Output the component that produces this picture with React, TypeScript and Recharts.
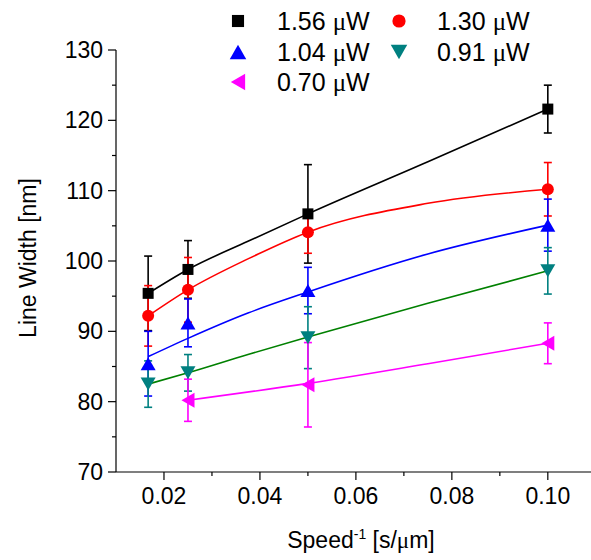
import React from 'react';
import { ComposedChart, Line, Scatter, ErrorBar, XAxis, YAxis } from 'recharts';

// measured points: inverse writing speed [s/um] vs line width [nm]
const SPEED_INV = [0.0167, 0.025, 0.05, 0.1];
const SPEED_INV_070 = [0.025, 0.05, 0.1];

const WIDTH_156 = [95.4, 98.8, 106.7, 121.6];
const ERR_156 = [5.3, 4.1, 7.0, 3.4];
const WIDTH_130 = [92.2, 95.9, 104.1, 110.2];
const ERR_130 = [4.3, 4.6, 3.0, 3.8];
const WIDTH_104 = [85.4, 91.2, 95.8, 105.1];
const ERR_104 = [4.6, 3.4, 3.3, 3.7];
const WIDTH_091 = [82.5, 84.1, 89.1, 98.6];
const ERR_091 = [3.3, 2.6, 4.4, 3.3];
const WIDTH_070 = [80.2, 82.4, 88.3];
const ERR_070 = [3.0, 6.0, 2.9];

// fitted curves
const FIT_X = [0.0167, 0.025, 0.0375, 0.05, 0.075, 0.1];
const FIT_X_070 = [0.025, 0.05, 0.075, 0.1];
const FIT_156 = [95.4, 98.8, 102.8, 106.7, 114.1, 121.6];
const FIT_130 = [92.2, 95.9, 100.3, 104.1, 108.2, 110.2];
const FIT_104 = [86.4, 89.0, 92.6, 95.6, 101.0, 105.1];
const FIT_091 = [82.5, 84.1, 86.7, 89.2, 94.0, 98.6];
const FIT_070 = [80.2, 82.6, 85.4, 88.3];

const X_TICKS = [0.02, 0.03, 0.04, 0.05, 0.06, 0.07, 0.08, 0.09, 0.1];
const Y_TICKS = [70, 75, 80, 85, 90, 95, 100, 105, 110, 115, 120, 125, 130];

const W = 591;
const H = 560;
const PLOT_LEFT = 116;
const PLOT_TOP = 50;
const PLOT_BOTTOM = 472;
const FONT = '"Liberation Sans", Arial, sans-serif';

const rows = (xs: number[], ys: number[], es?: number[]) =>
  xs.map((x, i) => ({ x, y: ys[i], err: es ? es[i] : 0 }));

type MarkerKind = 'square' | 'circle' | 'up' | 'down' | 'left';

const Marker = ({ kind, cx, cy, color, s = 1 }: { kind: MarkerKind; cx: number; cy: number; color: string; s?: number }) => {
  if (kind === 'square') {
    const h = 5.5 * s;
    return <rect x={cx - h} y={cy - h} width={2 * h} height={2 * h} fill={color} />;
  }
  if (kind === 'circle') return <circle cx={cx} cy={cy} r={6 * s} fill={color} />;
  if (kind === 'up') {
    const w = 7.5 * s, h = 6.5 * s;
    return <polygon points={`${cx - w},${cy + h} ${cx + w},${cy + h} ${cx},${cy - h}`} fill={color} />;
  }
  if (kind === 'down') {
    const w = 7.5 * s, h = 6.5 * s;
    return <polygon points={`${cx - w},${cy - h} ${cx + w},${cy - h} ${cx},${cy + h}`} fill={color} />;
  }
  const w = 6.5 * s, h = 7.5 * s;
  return <polygon points={`${cx + w},${cy - h} ${cx + w},${cy + h} ${cx - w},${cy}`} fill={color} />;
};

const SERIES = [
  { name: '1.56', kind: 'square' as MarkerKind, color: '#000000', line: '#000000', pts: rows(SPEED_INV, WIDTH_156, ERR_156), fit: rows(FIT_X, FIT_156) },
  { name: '1.30', kind: 'circle' as MarkerKind, color: '#ff0000', line: '#ff0000', pts: rows(SPEED_INV, WIDTH_130, ERR_130), fit: rows(FIT_X, FIT_130) },
  { name: '1.04', kind: 'up' as MarkerKind, color: '#0000ff', line: '#0000ff', pts: rows(SPEED_INV, WIDTH_104, ERR_104), fit: rows(FIT_X, FIT_104) },
  { name: '0.91', kind: 'down' as MarkerKind, color: '#008080', line: '#008000', pts: rows(SPEED_INV, WIDTH_091, ERR_091), fit: rows(FIT_X, FIT_091) },
  { name: '0.70', kind: 'left' as MarkerKind, color: '#ff00ff', line: '#ff00ff', pts: rows(SPEED_INV_070, WIDTH_070, ERR_070), fit: rows(FIT_X_070, FIT_070) },
];

const LEGEND_POS = [
  { mx: 238, tx: 277, y: 21 },
  { mx: 399, tx: 437, y: 21 },
  { mx: 238, tx: 277, y: 52 },
  { mx: 399, tx: 437, y: 52 },
  { mx: 238, tx: 277, y: 82 },
];

const YTick = (props: any) => {
  const { y, payload } = props;
  const v = payload.value;
  const major = v % 10 === 0;
  return (
    <g>
      <line x1={PLOT_LEFT - (major ? 8 : 4)} x2={PLOT_LEFT} y1={y} y2={y} stroke="#000" strokeWidth={1.2} />
      {major && (
        <text x={PLOT_LEFT - 13} y={y} textAnchor="end" dominantBaseline="central" fontSize={23} fontFamily={FONT} fill="#000">
          {v}
        </text>
      )}
    </g>
  );
};

const XTick = (props: any) => {
  const { x, payload } = props;
  const v = payload.value;
  const major = Math.round(v * 100) % 2 === 0;
  return (
    <g>
      <line x1={x} x2={x} y1={PLOT_BOTTOM} y2={PLOT_BOTTOM + (major ? 8 : 4)} stroke="#000" strokeWidth={1.2} />
      {major && (
        <text x={x} y={496} textAnchor="middle" dominantBaseline="central" fontSize={23} fontFamily={FONT} fill="#000">
          {v.toFixed(2)}
        </text>
      )}
    </g>
  );
};

export default function App() {
  return (
    <div style={{ position: 'absolute', left: 0, top: 0, width: W, height: H, background: '#fff', fontFamily: FONT }}>
      <ComposedChart width={W} height={H} margin={{ top: PLOT_TOP, right: 0, bottom: 0, left: 0 }}>
        <XAxis
          type="number"
          dataKey="x"
          domain={[0.01, 0.109]}
          ticks={X_TICKS}
          interval={0}
          allowDataOverflow
          height={H - PLOT_BOTTOM}
          tickLine={false}
          axisLine={{ stroke: '#000', strokeWidth: 1.2 }}
          tick={(p: any) => <XTick {...p} />}
        />
        <YAxis
          type="number"
          dataKey="y"
          domain={[70, 130]}
          ticks={Y_TICKS}
          interval={0}
          allowDataOverflow
          width={PLOT_LEFT}
          tickLine={false}
          axisLine={{ stroke: '#000', strokeWidth: 1.2 }}
          tick={(p: any) => <YTick {...p} />}
        />
        {SERIES.map((s) => (
          <Line
            key={`fit-${s.name}`}
            data={s.fit}
            dataKey="y"
            type="monotone"
            stroke={s.line}
            strokeWidth={1.6}
            dot={false}
            activeDot={false}
            isAnimationActive={false}
          />
        ))}
        {SERIES.map((s) => (
          <Scatter
            key={`pts-${s.name}`}
            data={s.pts}
            dataKey="y"
            isAnimationActive={false}
            shape={(p: any) => <Marker kind={s.kind} cx={p.cx} cy={p.cy} color={s.color} />}
          >
            <ErrorBar dataKey="err" direction="y" width={4} stroke={s.color} strokeWidth={1.6} isAnimationActive={false} />
          </Scatter>
        ))}
      </ComposedChart>

      {/* legend */}
      <svg width={W} height={100} style={{ position: 'absolute', left: 0, top: 0, pointerEvents: 'none' }}>
        {SERIES.map((s, i) => {
          const pos = LEGEND_POS[i];
          return (
            <g key={`lg-${s.name}`}>
              <Marker kind={s.kind} cx={pos.mx} cy={pos.y} color={s.color} s={1.1} />
              <text x={pos.tx} y={pos.y} dominantBaseline="central" fontSize={25} fontFamily={FONT} fill="#000">
                {s.name}{' '}
                <tspan fontFamily='"Liberation Serif", serif'>μ</tspan>W
              </text>
            </g>
          );
        })}
      </svg>

      {/* axis titles */}
      <div
        style={{
          position: 'absolute',
          left: 28,
          top: 258,
          transform: 'translate(-50%, -50%) rotate(-90deg)',
          whiteSpace: 'nowrap',
          fontSize: 23,
          color: '#000',
        }}
      >
        Line Width [nm]
      </div>
      <div
        style={{
          position: 'absolute',
          left: 361,
          top: 540,
          transform: 'translate(-50%, -50%)',
          whiteSpace: 'nowrap',
          fontSize: 23,
          color: '#000',
        }}
      >
        Speed<sup style={{ fontSize: 14 }}>-1</sup> [s/<span style={{ fontFamily: '"Liberation Serif", serif' }}>μ</span>m]
      </div>
    </div>
  );
}
